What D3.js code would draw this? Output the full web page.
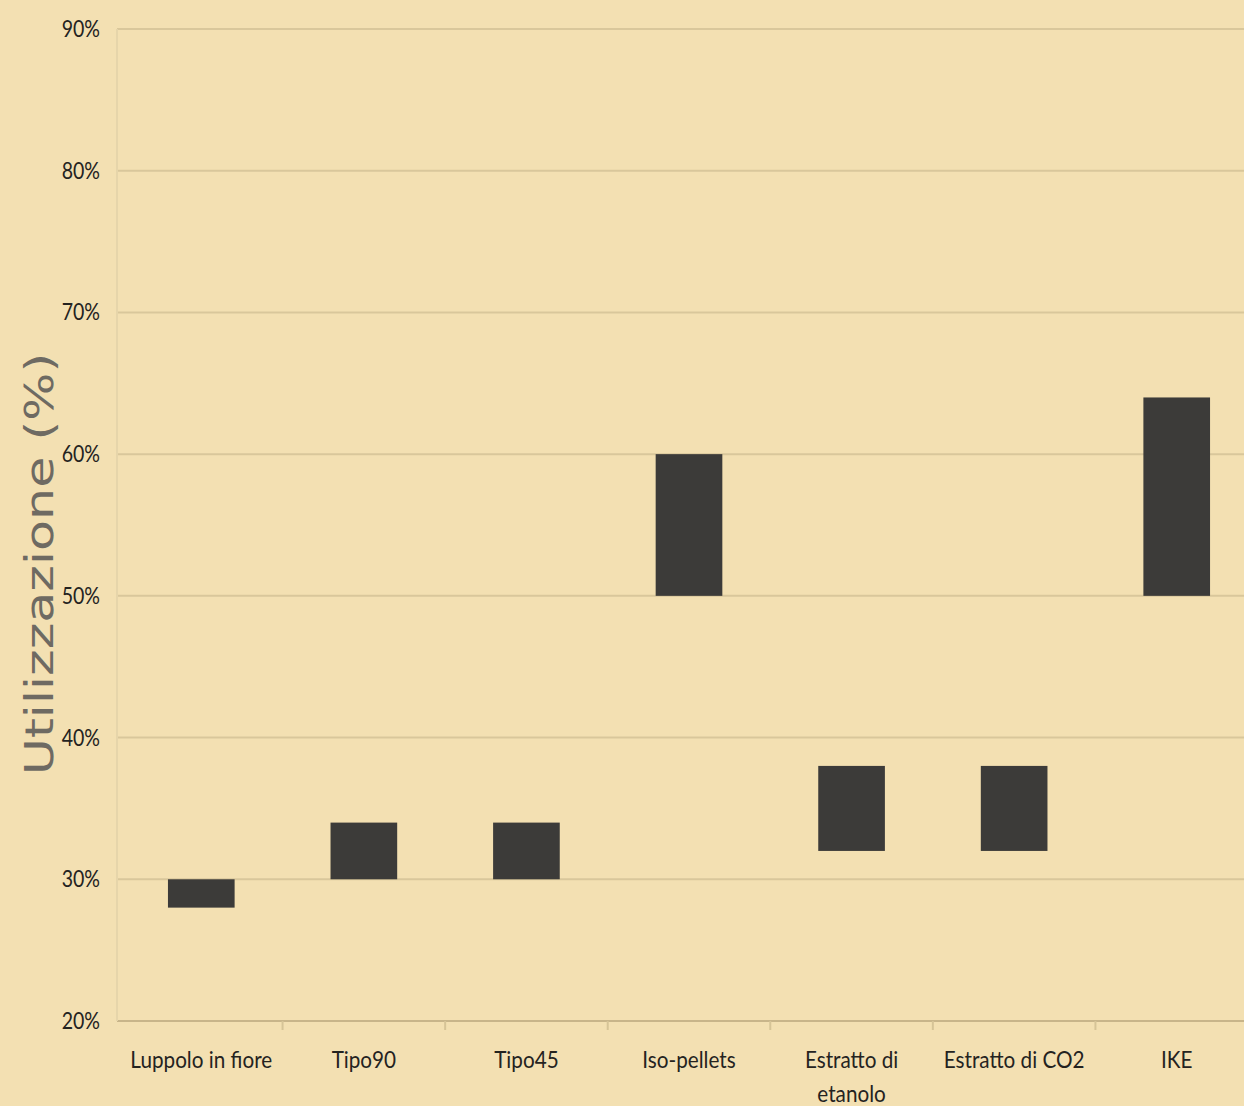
<!DOCTYPE html>
<html>
<head>
<meta charset="utf-8">
<script src="https://cdn.jsdelivr.net/npm/d3@7"></script>
<style>
  html, body { margin: 0; padding: 0; background: #F3E0B2; }
  svg { display: block; }
</style>
</head>
<body>
<svg id="chart" width="1244" height="1106"></svg>
<script>
// Hop utilization ranges by product form
const categories = ["Luppolo in fiore", "Tipo90", "Tipo45", "Iso-pellets", "Estratto di etanolo", "Estratto di CO2", "IKE"];
const lowValues  = [28, 30, 30, 50, 32, 32, 50];
const highValues = [30, 34, 34, 60, 38, 38, 64];
const yTicks = [20, 30, 40, 50, 60, 70, 80, 90];
const yTitle = "Utilizzazione (%)";

const svg = d3.select("#chart");
const W = 1244, H = 1106;

svg.append("rect").attr("width", W).attr("height", H).attr("fill", "#F3E0B2");

const x = d3.scaleBand()
  .domain(categories)
  .range([120, 1258])
  .paddingInner(0.59)
  .paddingOuter(0.295);

const y = d3.scaleLinear().domain([20, 90]).range([1021, 29]);

// horizontal gridlines
svg.append("g")
  .selectAll("line")
  .data(yTicks)
  .join("line")
  .attr("x1", 117).attr("x2", W)
  .attr("y1", d => y(d)).attr("y2", d => y(d))
  .attr("stroke", d => d === 20 ? "#C8B58A" : "#D9C79B")
  .attr("stroke-width", 2);

// left axis line
svg.append("line")
  .attr("x1", 117).attr("x2", 117)
  .attr("y1", y(90)).attr("y2", y(20))
  .attr("stroke", "#E6D5AA").attr("stroke-width", 2);

// y tick labels
const yLab = svg.append("g").attr("transform", "translate(100,0)");
yLab.selectAll("text")
  .data(yTicks)
  .join("text")
  .attr("transform", d => `translate(0,${y(d)}) scale(0.85,1)`)
  .attr("text-anchor", "end")
  .attr("dy", "0.35em")
  .attr("font-family", "Lato, 'Open Sans', sans-serif")
  .attr("font-size", 23)
  .attr("fill", "#24231f")
  .text(d => d + "%");

// small separator ticks along the category axis
const step = x.step();
const sepX = categories.slice(1).map(c => x(c) - (step - x.bandwidth()) / 2);
svg.append("g")
  .selectAll("line")
  .data(sepX)
  .join("line")
  .attr("x1", d => d).attr("x2", d => d)
  .attr("y1", y(20)).attr("y2", y(20) + 9)
  .attr("stroke", "#D6C497").attr("stroke-width", 2);

// floating range bars
svg.append("g")
  .selectAll("rect")
  .data(categories)
  .join("rect")
  .attr("x", d => x(d))
  .attr("width", x.bandwidth())
  .attr("y", (d, i) => y(highValues[i]))
  .attr("height", (d, i) => y(lowValues[i]) - y(highValues[i]))
  .attr("fill", "#3C3B39");

// category labels (wrapped on two lines where needed)
const wrapLines = {"Estratto di etanolo": ["Estratto di", "etanolo"]};
const xLab = svg.append("g");
categories.forEach(c => {
  const lines = wrapLines[c] || [c];
  const g = xLab.append("g")
    .attr("transform", `translate(${x(c) + x.bandwidth() / 2},0) scale(0.9,1)`);
  lines.forEach((t, k) => {
    g.append("text")
      .attr("x", 0)
      .attr("y", 1068 + k * 34)
      .attr("text-anchor", "middle")
      .attr("font-family", "Lato, 'Open Sans', sans-serif")
      .attr("font-size", 23)
      .attr("fill", "#24231f")
      .text(t);
  });
});

// y axis title, stretched along its length
svg.append("text")
  .attr("transform", `translate(53,564) rotate(-90) scale(1.3,1)`)
  .attr("text-anchor", "middle")
  .attr("font-family", "'DejaVu Sans', Verdana, sans-serif")
  .attr("font-size", 39)
  .attr("fill", "#6E6A62")
  .text(yTitle);
</script>
</body>
</html>
